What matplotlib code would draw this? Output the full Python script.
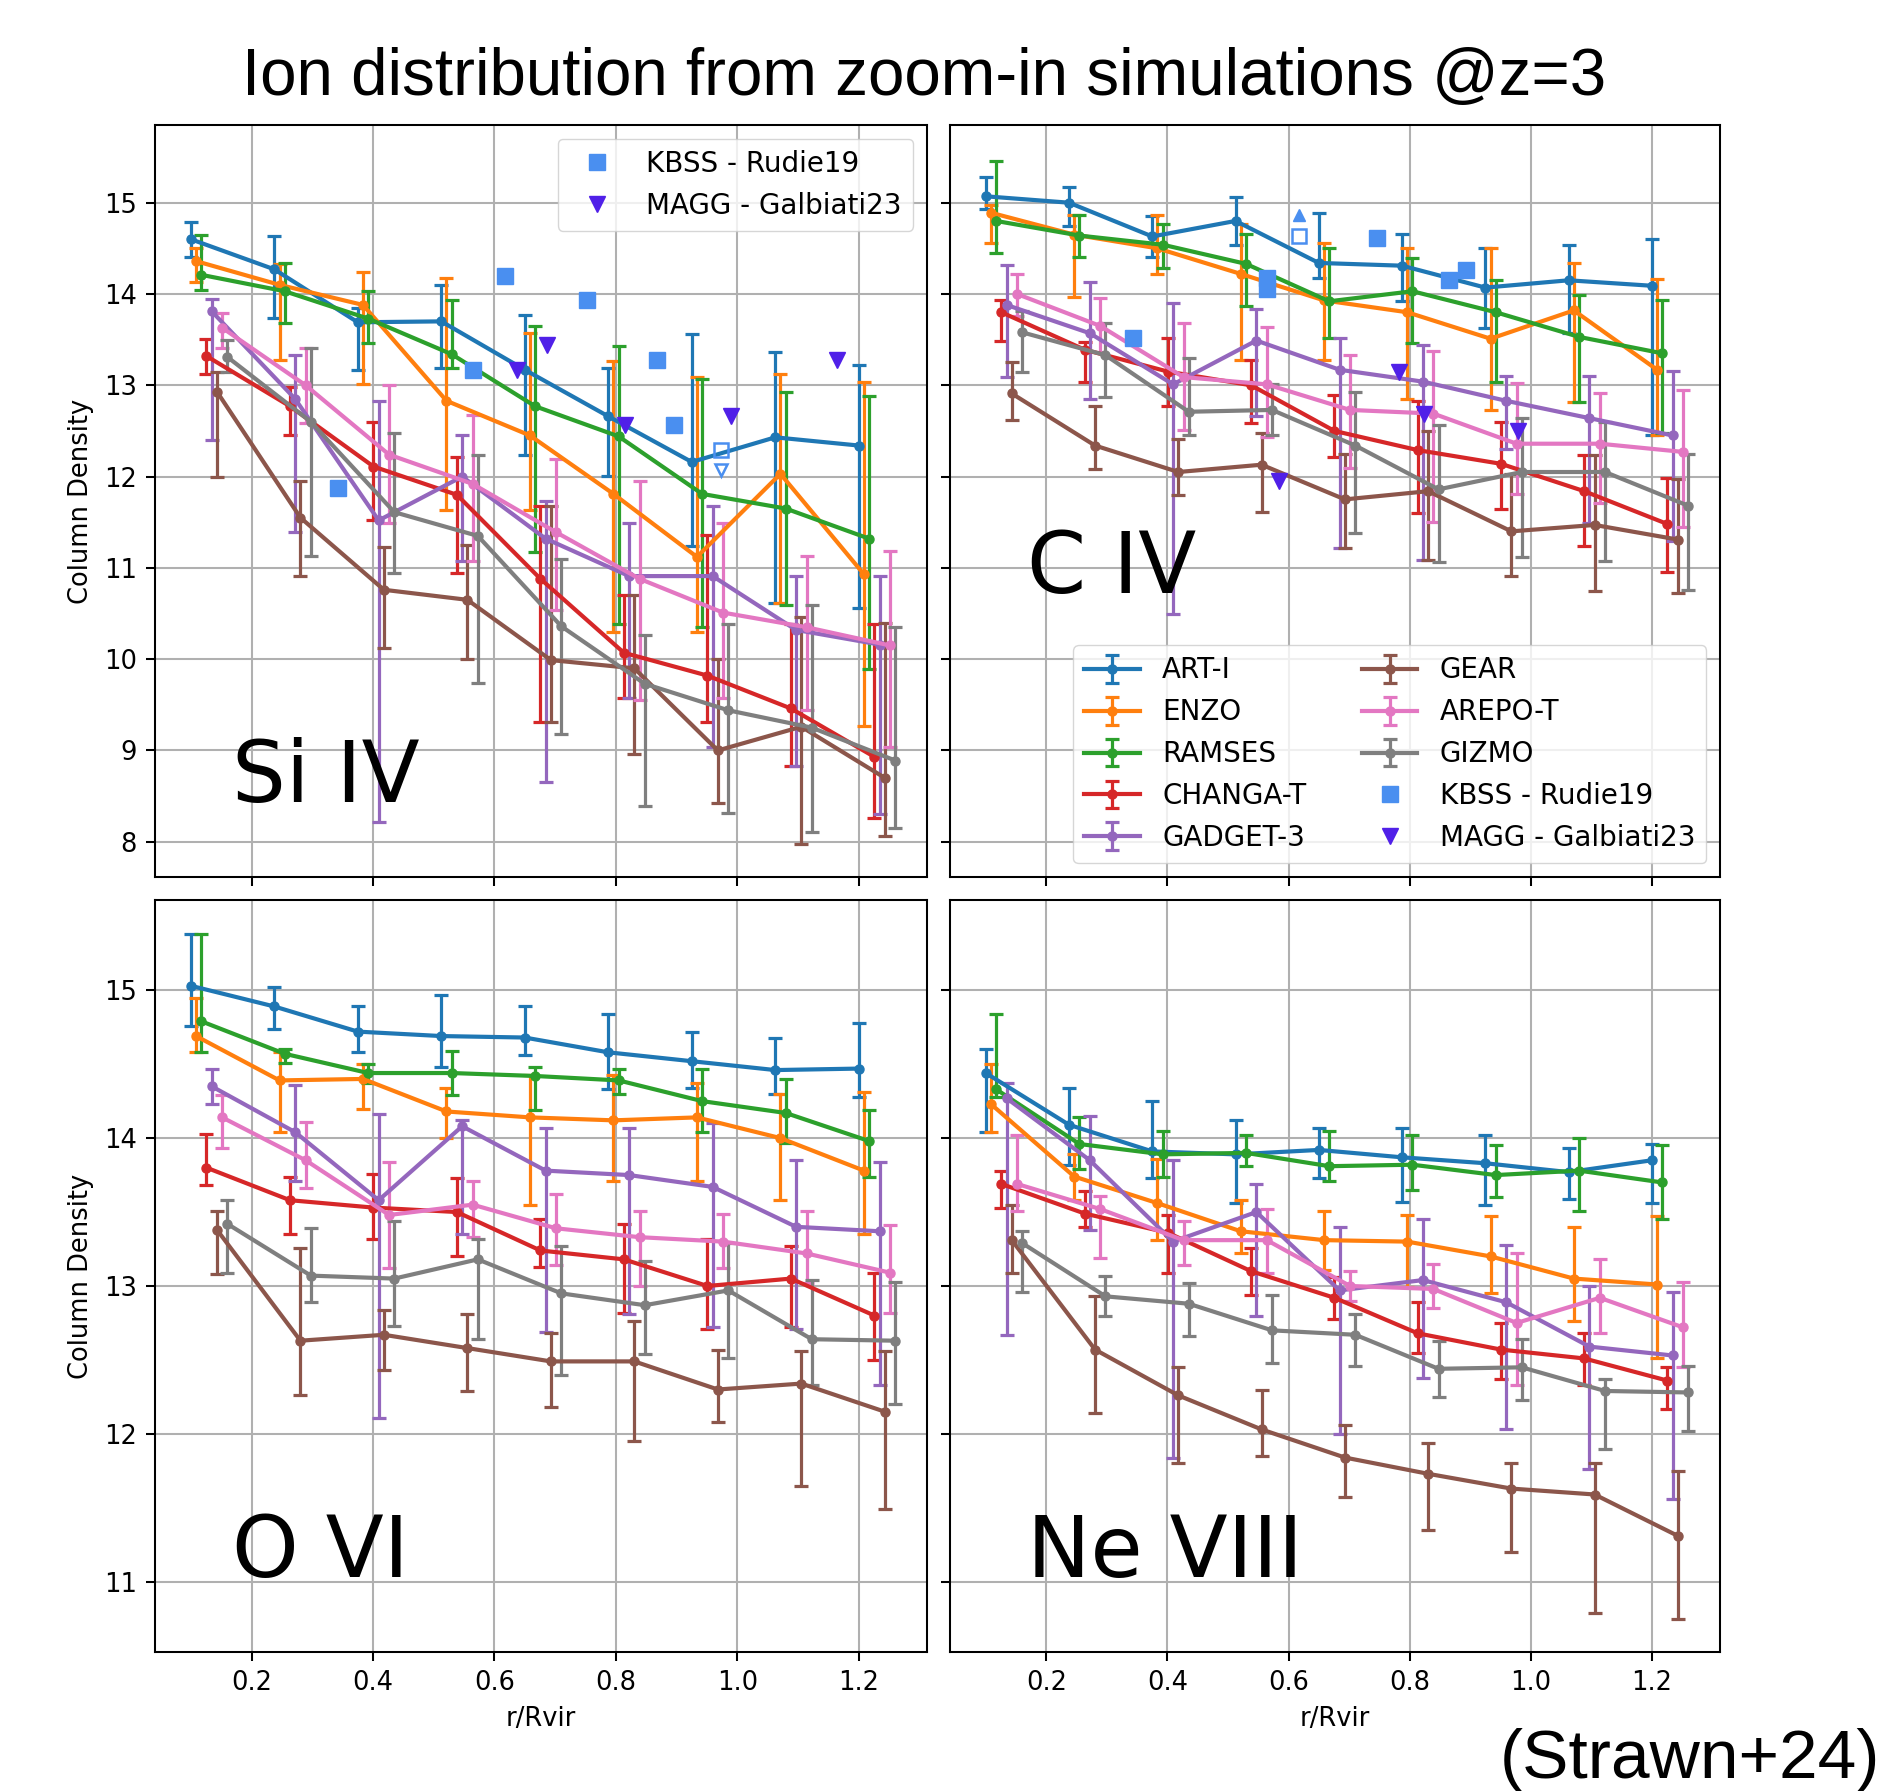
import numpy as np
import matplotlib
matplotlib.use("Agg")
import matplotlib.pyplot as plt

# ---------------- data ----------------
SIMS = ['ART-I', 'ENZO', 'RAMSES', 'CHANGA-T', 'GADGET-3', 'GEAR', 'AREPO-T', 'GIZMO']
COLORS = ['#1f77b4', '#ff7f0e', '#2ca02c', '#d62728', '#9467bd', '#8c564b', '#e377c2', '#7f7f7f']
R_BINS = [0.1, 0.2375, 0.375, 0.5125, 0.65, 0.7875, 0.925, 1.0625, 1.2]
SIM_SHIFT = [0.0, 0.0086, 0.0172, 0.0258, 0.0344, 0.043, 0.0516, 0.0602]

# --- Si IV ---
SIIV_MID = {
    'ART-I':    [14.60, 14.27, 13.69, 13.70, 13.17, 12.66, 12.16, 12.43, 12.34],
    'ENZO':     [14.36, 14.10, 13.88, 12.83, 12.45, 11.81, 11.12, 12.03, 10.93],
    'RAMSES':   [14.21, 14.03, 13.73, 13.34, 12.77, 12.44, 11.81, 11.65, 11.32],
    'CHANGA-T': [13.32, 12.77, 12.11, 11.80, 10.88, 10.07, 9.82, 9.46, 8.93],
    'GADGET-3': [13.81, 12.85, 11.52, 12.00, 11.32, 10.91, 10.91, 10.32, 10.16],
    'GEAR':     [12.93, 11.55, 10.76, 10.65, 9.99, 9.90, 9.00, 9.26, 8.70],
    'AREPO-T':  [13.63, 13.00, 12.24, 11.92, 11.39, 10.88, 10.51, 10.35, 10.15],
    'GIZMO':    [13.31, 12.60, 11.61, 11.35, 10.36, 9.73, 9.44, 9.25, 8.89],
}
SIIV_HI = {
    'ART-I':    [14.79, 14.64, 13.85, 14.10, 13.77, 13.19, 13.56, 13.36, 13.22],
    'ENZO':     [14.50, 14.33, 14.24, 14.17, 13.57, 13.27, 13.09, 13.12, 13.04],
    'RAMSES':   [14.65, 14.34, 14.03, 13.93, 13.65, 13.43, 13.07, 12.93, 12.88],
    'CHANGA-T': [13.51, 12.98, 12.60, 12.21, 11.68, 10.70, 11.36, 10.38, 10.38],
    'GADGET-3': [13.94, 13.33, 12.83, 12.45, 11.73, 11.49, 11.68, 10.91, 10.91],
    'GEAR':     [13.15, 11.95, 11.23, 11.25, 11.68, 10.70, 10.00, 10.46, 10.40],
    'AREPO-T':  [13.79, 13.41, 13.00, 12.67, 12.19, 11.95, 11.49, 11.13, 11.19],
    'GIZMO':    [13.50, 13.41, 12.48, 12.24, 11.10, 10.27, 10.38, 10.59, 10.35],
}
SIIV_LO = {
    'ART-I':    [14.40, 13.74, 13.17, 13.19, 12.24, 12.01, 11.24, 10.62, 10.56],
    'ENZO':     [14.13, 13.28, 13.01, 11.63, 11.63, 10.30, 10.30, 10.62, 9.27],
    'RAMSES':   [14.04, 13.68, 13.46, 13.19, 11.17, 10.38, 10.35, 10.59, 9.89],
    'CHANGA-T': [13.12, 12.45, 11.52, 10.94, 9.31, 9.58, 9.31, 8.83, 8.26],
    'GADGET-3': [12.40, 11.39, 8.22, 11.07, 8.66, 9.58, 9.04, 8.83, 8.30],
    'GEAR':     [12.00, 10.91, 10.12, 10.00, 9.31, 8.96, 8.43, 7.98, 8.06],
    'AREPO-T':  [13.41, 12.59, 11.49, 11.07, 10.54, 9.55, 9.58, 9.44, 9.04],
    'GIZMO':    [13.15, 11.13, 10.94, 9.74, 9.18, 8.39, 8.32, 8.11, 8.15],
}

# --- C IV ---
CIV_MID = {
    'ART-I':    [15.07, 15.00, 14.63, 14.80, 14.34, 14.31, 14.07, 14.15, 14.09],
    'ENZO':     [14.89, 14.65, 14.50, 14.22, 13.93, 13.80, 13.51, 13.82, 13.17],
    'RAMSES':   [14.80, 14.64, 14.54, 14.33, 13.92, 14.03, 13.80, 13.53, 13.35],
    'CHANGA-T': [13.80, 13.39, 13.15, 13.00, 12.50, 12.29, 12.14, 11.84, 11.48],
    'GADGET-3': [13.88, 13.57, 13.01, 13.49, 13.17, 13.04, 12.83, 12.64, 12.45],
    'GEAR':     [12.91, 12.34, 12.05, 12.13, 11.75, 11.84, 11.40, 11.47, 11.31],
    'AREPO-T':  [14.00, 13.65, 13.09, 13.01, 12.73, 12.69, 12.36, 12.36, 12.27],
    'GIZMO':    [13.58, 13.33, 12.71, 12.73, 12.34, 11.86, 12.05, 12.05, 11.68],
}
CIV_HI = {
    'ART-I':    [15.28, 15.17, 14.85, 15.06, 14.89, 14.66, 14.50, 14.54, 14.60],
    'ENZO':     [14.98, 14.86, 14.86, 14.77, 14.56, 14.50, 14.50, 14.34, 14.16],
    'RAMSES':   [15.46, 14.86, 14.77, 14.66, 14.50, 14.39, 14.15, 13.99, 13.93],
    'CHANGA-T': [13.93, 13.47, 13.52, 13.28, 12.89, 12.83, 12.60, 12.24, 11.98],
    'GADGET-3': [14.32, 14.13, 13.90, 13.84, 13.52, 13.44, 13.10, 13.10, 13.16],
    'GEAR':     [13.25, 12.77, 12.41, 12.48, 12.25, 12.50, 12.03, 12.24, 11.97],
    'AREPO-T':  [14.22, 13.96, 13.68, 13.64, 13.33, 13.38, 13.02, 12.91, 12.95],
    'GIZMO':    [13.81, 13.68, 13.30, 13.01, 12.93, 12.57, 12.64, 12.60, 12.25],
}
CIV_LO = {
    'ART-I':    [14.93, 14.74, 14.41, 14.54, 14.18, 13.92, 13.63, 13.57, 12.46],
    'ENZO':     [14.56, 13.97, 14.22, 13.28, 13.28, 12.85, 12.73, 12.82, 12.45],
    'RAMSES':   [14.45, 14.41, 14.29, 13.87, 13.52, 13.46, 13.04, 12.82, 12.48],
    'CHANGA-T': [13.49, 13.04, 12.77, 12.59, 12.21, 11.60, 11.65, 11.24, 10.96],
    'GADGET-3': [13.09, 12.85, 10.49, 12.66, 11.22, 11.09, 12.30, 11.49, 11.29],
    'GEAR':     [12.62, 12.08, 11.80, 11.61, 11.22, 11.09, 10.91, 10.75, 10.72],
    'AREPO-T':  [13.76, 13.37, 12.51, 12.43, 12.09, 11.50, 11.81, 11.71, 11.45],
    'GIZMO':    [13.15, 12.87, 12.45, 12.45, 11.38, 11.06, 11.12, 11.08, 10.76],
}

# --- O VI ---
OVI_MID = {
    'ART-I':    [15.03, 14.89, 14.72, 14.69, 14.68, 14.58, 14.52, 14.46, 14.47],
    'ENZO':     [14.69, 14.39, 14.40, 14.18, 14.14, 14.12, 14.14, 14.00, 13.78],
    'RAMSES':   [14.79, 14.57, 14.44, 14.44, 14.42, 14.39, 14.25, 14.17, 13.98],
    'CHANGA-T': [13.80, 13.58, 13.53, 13.50, 13.24, 13.18, 13.00, 13.05, 12.80],
    'GADGET-3': [14.35, 14.04, 13.58, 14.08, 13.78, 13.75, 13.67, 13.40, 13.37],
    'GEAR':     [13.38, 12.63, 12.67, 12.58, 12.49, 12.49, 12.30, 12.34, 12.15],
    'AREPO-T':  [14.14, 13.85, 13.48, 13.55, 13.39, 13.33, 13.30, 13.22, 13.09],
    'GIZMO':    [13.42, 13.07, 13.05, 13.18, 12.95, 12.87, 12.97, 12.64, 12.63],
}
OVI_HI = {
    'ART-I':    [15.38, 15.02, 14.89, 14.97, 14.89, 14.84, 14.72, 14.68, 14.78],
    'ENZO':     [14.95, 14.58, 14.50, 14.34, 14.43, 14.43, 14.37, 14.30, 14.31],
    'RAMSES':   [15.38, 14.60, 14.50, 14.59, 14.48, 14.47, 14.47, 14.40, 14.19],
    'CHANGA-T': [14.03, 13.74, 13.76, 13.73, 13.45, 13.42, 13.32, 13.27, 13.09],
    'GADGET-3': [14.47, 14.36, 14.16, 14.12, 14.07, 14.07, 14.10, 13.85, 13.84],
    'GEAR':     [13.51, 13.26, 12.84, 12.81, 12.68, 12.76, 12.57, 12.56, 12.56],
    'AREPO-T':  [14.29, 14.11, 13.84, 13.71, 13.62, 13.51, 13.49, 13.51, 13.41],
    'GIZMO':    [13.58, 13.39, 13.44, 13.32, 13.27, 13.17, 13.29, 13.04, 13.03],
}
OVI_LO = {
    'ART-I':    [14.76, 14.74, 14.58, 14.48, 14.56, 14.33, 14.34, 14.30, 14.28],
    'ENZO':     [14.58, 14.04, 14.20, 14.00, 13.55, 13.71, 13.71, 13.58, 13.35],
    'RAMSES':   [14.58, 14.51, 14.37, 14.29, 14.19, 14.30, 14.04, 13.97, 13.74],
    'CHANGA-T': [13.68, 13.35, 13.32, 13.20, 13.13, 12.82, 12.71, 12.72, 12.50],
    'GADGET-3': [14.23, 13.71, 12.11, 13.35, 12.69, 12.81, 12.72, 12.71, 12.33],
    'GEAR':     [13.08, 12.26, 12.43, 12.29, 12.18, 11.95, 12.08, 11.65, 11.49],
    'AREPO-T':  [13.93, 13.66, 13.12, 13.33, 13.14, 13.00, 13.12, 13.02, 12.82],
    'GIZMO':    [13.09, 12.89, 12.73, 12.64, 12.40, 12.54, 12.51, 12.33, 12.20],
}

# --- Ne VIII ---
NEVIII_MID = {
    'ART-I':    [14.44, 14.09, 13.91, 13.89, 13.92, 13.87, 13.83, 13.77, 13.85],
    'ENZO':     [14.23, 13.74, 13.56, 13.37, 13.31, 13.30, 13.20, 13.05, 13.01],
    'RAMSES':   [14.33, 13.96, 13.89, 13.90, 13.81, 13.82, 13.75, 13.78, 13.70],
    'CHANGA-T': [13.69, 13.49, 13.36, 13.10, 12.92, 12.68, 12.57, 12.51, 12.36],
    'GADGET-3': [14.27, 13.85, 13.30, 13.50, 12.97, 13.04, 12.89, 12.59, 12.53],
    'GEAR':     [13.31, 12.57, 12.26, 12.03, 11.84, 11.73, 11.63, 11.59, 11.31],
    'AREPO-T':  [13.69, 13.52, 13.31, 13.31, 13.00, 12.98, 12.75, 12.92, 12.72],
    'GIZMO':    [13.29, 12.93, 12.88, 12.70, 12.67, 12.44, 12.45, 12.29, 12.28],
}
NEVIII_HI = {
    'ART-I':    [14.60, 14.34, 14.25, 14.12, 14.07, 14.07, 14.02, 13.93, 13.96],
    'ENZO':     [14.50, 13.89, 13.86, 13.58, 13.51, 13.48, 13.47, 13.40, 13.47],
    'RAMSES':   [14.84, 14.14, 14.05, 14.02, 14.05, 14.02, 13.95, 14.00, 13.95],
    'CHANGA-T': [13.78, 13.64, 13.48, 13.26, 13.06, 12.89, 12.75, 12.68, 12.45],
    'GADGET-3': [14.37, 14.15, 13.85, 13.69, 13.40, 13.45, 13.28, 13.00, 12.96],
    'GEAR':     [13.55, 12.93, 12.45, 12.30, 12.06, 11.94, 11.80, 11.80, 11.75],
    'AREPO-T':  [14.02, 13.61, 13.44, 13.52, 13.10, 13.15, 13.22, 13.18, 13.03],
    'GIZMO':    [13.37, 13.07, 13.02, 12.94, 12.81, 12.63, 12.64, 12.37, 12.46],
}
NEVIII_LO = {
    'ART-I':    [14.04, 13.82, 13.73, 13.56, 13.73, 13.57, 13.55, 13.59, 13.56],
    'ENZO':     [14.04, 13.58, 13.31, 13.22, 13.11, 12.99, 12.95, 12.76, 12.51],
    'RAMSES':   [14.28, 13.79, 13.74, 13.81, 13.71, 13.65, 13.60, 13.51, 13.45],
    'CHANGA-T': [13.53, 13.40, 13.09, 12.94, 12.78, 12.55, 12.37, 12.33, 12.17],
    'GADGET-3': [12.67, 13.38, 11.84, 12.80, 12.00, 12.38, 12.03, 11.76, 11.56],
    'GEAR':     [13.09, 12.14, 11.80, 11.85, 11.57, 11.35, 11.20, 10.79, 10.75],
    'AREPO-T':  [13.51, 13.19, 13.14, 13.09, 12.90, 12.85, 12.33, 12.68, 12.45],
    'GIZMO':    [12.96, 12.80, 12.66, 12.48, 12.46, 12.25, 12.23, 11.90, 12.02],
}

# --- observations ---
KBSS_SIIV_R = [0.3425, 0.5645, 0.6176, 0.7526, 0.867, 0.896]
KBSS_SIIV_N = [11.88, 13.17, 14.20, 13.93, 13.28, 12.57]
KBSS_SIIV_UL_R = [0.973]
KBSS_SIIV_UL_N = [12.29]
MAGG_SIIV_R = [0.638, 0.686, 0.815, 0.989, 1.165]
MAGG_SIIV_N = [13.17, 13.44, 12.56, 12.66, 13.28]

KBSS_CIV_R = [0.3425, 0.5645, 0.5645, 0.746, 0.8644, 0.8935]
KBSS_CIV_N = [13.52, 14.17, 14.05, 14.61, 14.15, 14.26]
KBSS_CIV_LL_R = [0.6176]
KBSS_CIV_LL_N = [14.64]
MAGG_CIV_R = [0.585, 0.783, 0.823, 0.979]
MAGG_CIV_N = [11.95, 13.15, 12.69, 12.50]

ION_LABELS = ['Si IV', 'C IV', 'O VI', 'Ne VIII']
TITLE = 'Ion distribution from zoom-in simulations @z=3'
CREDIT = '(Strawn+24)'
KBSS_LABEL = 'KBSS - Rudie19'
MAGG_LABEL = 'MAGG - Galbiati23'
KBSS_COLOR = '#4a8ff0'
MAGG_COLOR = '#5020e8'

# ---------------- style ----------------
S = 1.85
plt.rcParams.update({
    'font.family': ['DejaVu Sans'],
    'font.size': 10 * S,
    'axes.linewidth': 0.8 * S,
    'grid.linewidth': 0.8 * S,
    'grid.color': '#b0b0b0',
    'xtick.major.size': 3.5 * S,
    'ytick.major.size': 3.5 * S,
    'xtick.major.width': 0.8 * S,
    'ytick.major.width': 0.8 * S,
    'xtick.major.pad': 3.5 * S,
    'ytick.major.pad': 3.5 * S,
    'axes.labelpad': 4.0 * S,
    'legend.fontsize': 20,
})

W, H = 1889, 1791
fig = plt.figure(figsize=(W / 100, H / 100), dpi=100)

def px_axes(x0, y0, x1, y1):
    return [x0 / W, 1 - y1 / H, (x1 - x0) / W, (y1 - y0) / H]

ax_si = fig.add_axes(px_axes(155, 125, 927, 877))
ax_c = fig.add_axes(px_axes(950, 125, 1720, 877), sharex=ax_si, sharey=ax_si)
ax_o = fig.add_axes(px_axes(155, 900, 927, 1652), sharex=ax_si)
ax_ne = fig.add_axes(px_axes(950, 900, 1720, 1652), sharex=ax_si, sharey=ax_o)

panels = [
    (ax_si, SIIV_MID, SIIV_LO, SIIV_HI),
    (ax_c, CIV_MID, CIV_LO, CIV_HI),
    (ax_o, OVI_MID, OVI_LO, OVI_HI),
    (ax_ne, NEVIII_MID, NEVIII_LO, NEVIII_HI),
]

sim_handles = []
for ax, mid, lo, hi in panels:
    ax.grid(True)
    for i, sim in enumerate(SIMS):
        x = np.array(R_BINS) + SIM_SHIFT[i]
        y = np.array(mid[sim])
        yl = np.maximum(y - np.array(lo[sim]), 0)
        yh = np.maximum(np.array(hi[sim]) - y, 0)
        cont = ax.errorbar(x, y, yerr=[yl, yh], color=COLORS[i], lw=3.0,
                           elinewidth=2.3, capthick=2.3, capsize=4.7,
                           marker='o', ms=6.5, label=sim, zorder=2 + 0.01 * i)
        if ax is ax_c:
            sim_handles.append(cont)

# observations
obs_handles = {}
for ax, kr, kn, mr, mn in [(ax_si, KBSS_SIIV_R, KBSS_SIIV_N, MAGG_SIIV_R, MAGG_SIIV_N),
                           (ax_c, KBSS_CIV_R, KBSS_CIV_N, MAGG_CIV_R, MAGG_CIV_N)]:
    hk, = ax.plot(kr, kn, 's', color=KBSS_COLOR, ms=11.5, ls='none', zorder=4)
    hm, = ax.plot(mr, mn, 'v', color=MAGG_COLOR, ms=11.5, ls='none', zorder=4)
    obs_handles[ax] = (hk, hm)

# limits (open squares with arrows)
ax_si.plot(KBSS_SIIV_UL_R, KBSS_SIIV_UL_N, 's', mfc='none', mec=KBSS_COLOR, mew=1.8, ms=10, zorder=4)
ax_si.plot(KBSS_SIIV_UL_R, np.array(KBSS_SIIV_UL_N) - 0.22, 'v', mfc='none', mec=KBSS_COLOR, mew=1.8, ms=9, zorder=4)
ax_c.plot(KBSS_CIV_LL_R, KBSS_CIV_LL_N, 's', mfc='none', mec=KBSS_COLOR, mew=1.8, ms=10, zorder=4)
ax_c.plot(KBSS_CIV_LL_R, np.array(KBSS_CIV_LL_N) + 0.22, '^', color=KBSS_COLOR, ms=9, zorder=4)

ax_si.set_xlim(0.041, 1.3125)
ax_si.set_ylim(7.614, 15.851)
ax_o.set_ylim(10.525, 15.61)
ax_si.set_xticks([0.2, 0.4, 0.6, 0.8, 1.0, 1.2])
ax_si.set_yticks(range(8, 16))
ax_o.set_yticks(range(11, 16))

for ax in (ax_si, ax_c):
    ax.tick_params(labelbottom=False)
for ax in (ax_c, ax_ne):
    ax.tick_params(labelleft=False)

for ax in (ax_si, ax_o):
    ax.set_ylabel('Column Density')
for ax in (ax_o, ax_ne):
    ax.set_xlabel('r/Rvir')

ion_pos = [(0.1, 0.1), (0.1, 0.378), (0.1, 0.1), (0.1, 0.1)]
for ax, lab, (tx, ty) in zip([ax_si, ax_c, ax_o, ax_ne], ION_LABELS, ion_pos):
    ax.text(tx, ty, lab, transform=ax.transAxes, fontsize=61, va='baseline', ha='left', zorder=6)

# legends
ax_si.legend(list(obs_handles[ax_si]), [KBSS_LABEL, MAGG_LABEL], loc='upper right')
ax_c.legend(sim_handles + list(obs_handles[ax_c]), SIMS + [KBSS_LABEL, MAGG_LABEL],
            loc='lower right', ncol=2)

fig.text(924.5 / W, 1 - 78 / H, TITLE, ha='center', va='center', fontsize=47.2,
         family='Liberation Sans')
fig.text(1880 / W, 1 - 1760 / H, CREDIT, ha='right', va='center', fontsize=50,
         family='Liberation Sans')

fig.savefig('out.png', dpi=100)
